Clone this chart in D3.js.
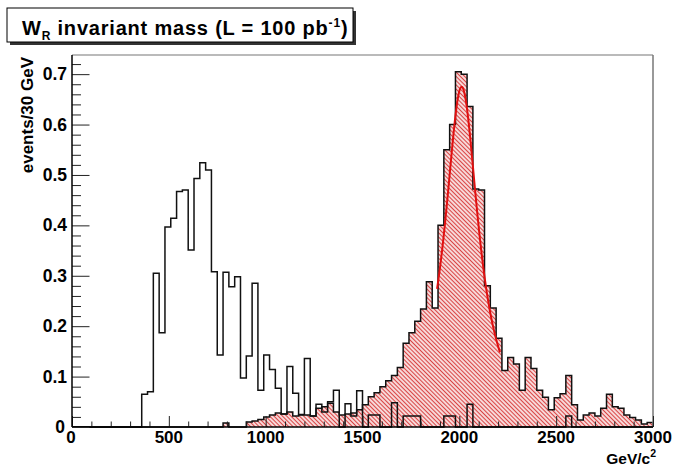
<!DOCTYPE html>
<html>
<head>
  <script src="https://d3js.org/d3.v7.min.js"></script>
  <style>
    body { margin: 0; background: #fff; }
    text { font-family: "Liberation Sans", Arial, sans-serif; font-weight: bold; }
  </style>
</head>
<body>
<script type="text/javascript">

  // histogram binning: 100 bins of 30 GeV from 0 to 3000
  var binWidth = 30;
  var massRange = [0, 3000];

  // signal W_R (red hatched), events / 30 GeV, one value per bin
  var signal = [
    0, 0, 0, 0, 0, 0, 0, 0, 0, 0,
    0, 0, 0, 0, 0, 0, 0, 0, 0, 0,
    0, 0, 0, 0, 0, 0, 0.008, 0, 0, 0,
    0.010, 0.012, 0.015, 0.020, 0.024, 0.028, 0.026, 0.030, 0.022, 0.024,
    0.024, 0.022, 0.037, 0.040, 0.047, 0.030, 0.024, 0.026, 0.028, 0.034,
    0.044, 0.060, 0.068, 0.080, 0.092, 0.102, 0.118, 0.166, 0.187, 0.210,
    0.234, 0.288, 0.236, 0.400, 0.550, 0.600, 0.705, 0.700, 0.636, 0.472,
    0.470, 0.280, 0.236, 0.176, 0.112, 0.138, 0.125, 0.073, 0.138, 0.116,
    0.073, 0.059, 0.034, 0.058, 0.066, 0.102, 0.044, 0.014, 0.024, 0.028,
    0.022, 0.037, 0.065, 0.040, 0.037, 0.024, 0.019, 0.014, 0.006, 0.009
  ];

  // background (open histogram)
  var background = [
    0, 0, 0, 0, 0, 0, 0, 0, 0, 0,
    0, 0, 0.065, 0.070, 0.305, 0.187, 0.397, 0.414, 0.467, 0.470,
    0.351, 0.493, 0.524, 0.510, 0.308, 0.143, 0.307, 0.278, 0.298, 0.097,
    0.141, 0.285, 0.073, 0.143, 0.114, 0.077, 0.026, 0.120, 0.067, 0.025,
    0.136, 0.022, 0.045, 0.030, 0.050, 0.073, 0, 0.046, 0.022, 0.072,
    0, 0.024, 0.024, 0, 0, 0.048, 0, 0.022, 0.022, 0.022,
    0, 0, 0, 0, 0.022, 0.022, 0, 0, 0.045, 0,
    0, 0, 0, 0, 0, 0, 0, 0, 0, 0,
    0, 0, 0, 0, 0, 0.022, 0, 0, 0, 0,
    0, 0, 0, 0, 0, 0, 0, 0, 0, 0
  ];

  // Breit-Wigner fit drawn over the peak
  var fitPeak = 0.675, fitMass = 2012, fitHalfWidth = 105;
  var fitRange = [1885, 2210];

  var xTicks = [0, 500, 1000, 1500, 2000, 2500, 3000];
  var yTicks = [0, 0.1, 0.2, 0.3, 0.4, 0.5, 0.6, 0.7];

  var W = 673, H = 466;
  var frame = {left: 72, right: 653, top: 55, bottom: 427};

  var svg = d3.select("body").append("svg")
    .attr("width", W)
    .attr("height", H);

  var x = d3.scaleLinear().domain(massRange).range([frame.left, frame.right]);
  var y = d3.scaleLinear().domain([0, 0.738]).range([frame.bottom, frame.top]);

  // hatch pattern
  var defs = svg.append("defs");
  var pat = defs.append("pattern")
    .attr("id", "hatch")
    .attr("patternUnits", "userSpaceOnUse")
    .attr("width", 3)
    .attr("height", 3)
    .attr("patternTransform", "rotate(45)");
  pat.append("rect").attr("width", 3).attr("height", 3).attr("fill", "#f9e0e0");
  pat.append("line")
    .attr("x1", 0).attr("y1", 1.5).attr("x2", 3).attr("y2", 1.5)
    .attr("stroke", "#d94545").attr("stroke-width", 1.1);

  function stepPath(vals) {
    var p = "M" + x(massRange[0]) + "," + y(0);
    vals.forEach(function(v, i) {
      var x0 = x(massRange[0] + i * binWidth), x1 = x(massRange[0] + (i + 1) * binWidth);
      p += "L" + x0 + "," + y(v) + "L" + x1 + "," + y(v);
    });
    p += "L" + x(massRange[1]) + "," + y(0);
    return p;
  }

  // signal, filled
  svg.append("path")
    .attr("d", stepPath(signal) + "Z")
    .attr("fill", "url(#hatch)")
    .attr("stroke", "none");
  svg.append("path")
    .attr("d", stepPath(signal))
    .attr("fill", "none")
    .attr("stroke", "#111")
    .attr("stroke-width", 1.5);

  // background, open
  svg.append("path")
    .attr("d", stepPath(background))
    .attr("fill", "none")
    .attr("stroke", "#111")
    .attr("stroke-width", 1.5);

  // fit curve
  var fitPts = d3.range(0, 101).map(function(k) {
    var m = fitRange[0] + (fitRange[1] - fitRange[0]) * k / 100;
    var t = (m - fitMass) / fitHalfWidth;
    return [m, fitPeak / (1 + t * t)];
  });
  svg.append("path")
    .attr("d", d3.line().x(function(d) { return x(d[0]); }).y(function(d) { return y(d[1]); })(fitPts))
    .attr("fill", "none")
    .attr("stroke", "#e01010")
    .attr("stroke-width", 2);

  // frame
  svg.append("line")
    .attr("x1", frame.left).attr("x2", frame.right).attr("y1", frame.top).attr("y2", frame.top)
    .attr("stroke", "#777").attr("stroke-width", 1.2);
  svg.append("line")
    .attr("x1", frame.right).attr("x2", frame.right).attr("y1", frame.top).attr("y2", frame.bottom)
    .attr("stroke", "#777").attr("stroke-width", 1.5);

  // axes, ticks inside the frame like ROOT
  var xMinor = d3.range(0, 3001, 100).filter(function(v) { return v % 500 !== 0; });
  var yMinor = d3.range(0, 37).map(function(k) { return k * 0.02; }).filter(function(v, k) { return k % 5 !== 0; });

  var xAxis = svg.append("g").attr("transform", "translate(0," + frame.bottom + ")");
  xAxis.append("g")
    .call(d3.axisTop(x).tickValues(xMinor).tickSize(5.5).tickFormat(""))
    .call(function(g) { g.select(".domain").remove(); });
  xAxis.append("g")
    .call(d3.axisTop(x).tickValues(xTicks).tickSize(11).tickFormat(""))
    .call(function(g) { g.select(".domain").remove(); });
  xAxis.append("line")
    .attr("x1", frame.left).attr("x2", frame.right)
    .attr("stroke", "#000").attr("stroke-width", 1.5);
  xAxis.selectAll(".tick line").attr("stroke", "#222");

  var yAxis = svg.append("g").attr("transform", "translate(" + frame.left + ",0)");
  yAxis.append("g")
    .call(d3.axisRight(y).tickValues(yMinor).tickSize(9).tickFormat(""))
    .call(function(g) { g.select(".domain").remove(); });
  yAxis.append("g")
    .call(d3.axisRight(y).tickValues(yTicks).tickSize(17.5).tickFormat(""))
    .call(function(g) { g.select(".domain").remove(); });
  yAxis.append("line")
    .attr("y1", frame.top).attr("y2", frame.bottom)
    .attr("stroke", "#000").attr("stroke-width", 1.5);
  yAxis.selectAll(".tick line").attr("stroke", "#222");

  // tick labels
  svg.append("g").selectAll("text")
    .data(xTicks)
    .join("text")
    .attr("x", function(d) { return d === 0 ? x(d) - 1 : x(d); })
    .attr("y", 443)
    .attr("text-anchor", "middle")
    .attr("font-size", 17)
    .text(function(d) { return d; });

  svg.append("g").selectAll("text")
    .data(yTicks)
    .join("text")
    .attr("x", function(d) { return d === 0 ? 65 : 67; })
    .attr("y", function(d) { return y(d) + 6; })
    .attr("text-anchor", "end")
    .attr("font-size", 17.5)
    .text(function(d) { return d === 0 ? "0" : d3.format(".1f")(d); });

  // axis titles
  var xt = svg.append("text")
    .attr("x", 656)
    .attr("y", 464)
    .attr("text-anchor", "end")
    .attr("font-size", 15.5);
  xt.append("tspan").text("GeV/c");
  xt.append("tspan").attr("font-size", 10.5).attr("dy", -7).text("2");

  svg.append("text")
    .attr("transform", "translate(33," + (frame.top + 2) + ") rotate(-90)")
    .attr("text-anchor", "end")
    .attr("font-size", 17)
    .text("events/30 GeV");

  // title box
  svg.append("rect")
    .attr("x", 10).attr("y", 11).attr("width", 346).attr("height", 34)
    .attr("fill", "#333");
  svg.append("rect")
    .attr("x", 7).attr("y", 8).attr("width", 346).attr("height", 34)
    .attr("fill", "#fff").attr("stroke", "#000").attr("stroke-width", 1);

  var title = svg.append("text")
    .attr("x", 22)
    .attr("y", 35)
    .attr("font-size", 20)
    .attr("letter-spacing", 0.8);
  title.append("tspan").text("W");
  title.append("tspan").attr("font-size", 12).attr("dy", 5).text("R");
  title.append("tspan").attr("dy", -5).text(" invariant mass (L = 100 pb");
  title.append("tspan").attr("font-size", 12).attr("dy", -8).text("-1");
  title.append("tspan").attr("dy", 8).text(")");

</script>
</body>
</html>
